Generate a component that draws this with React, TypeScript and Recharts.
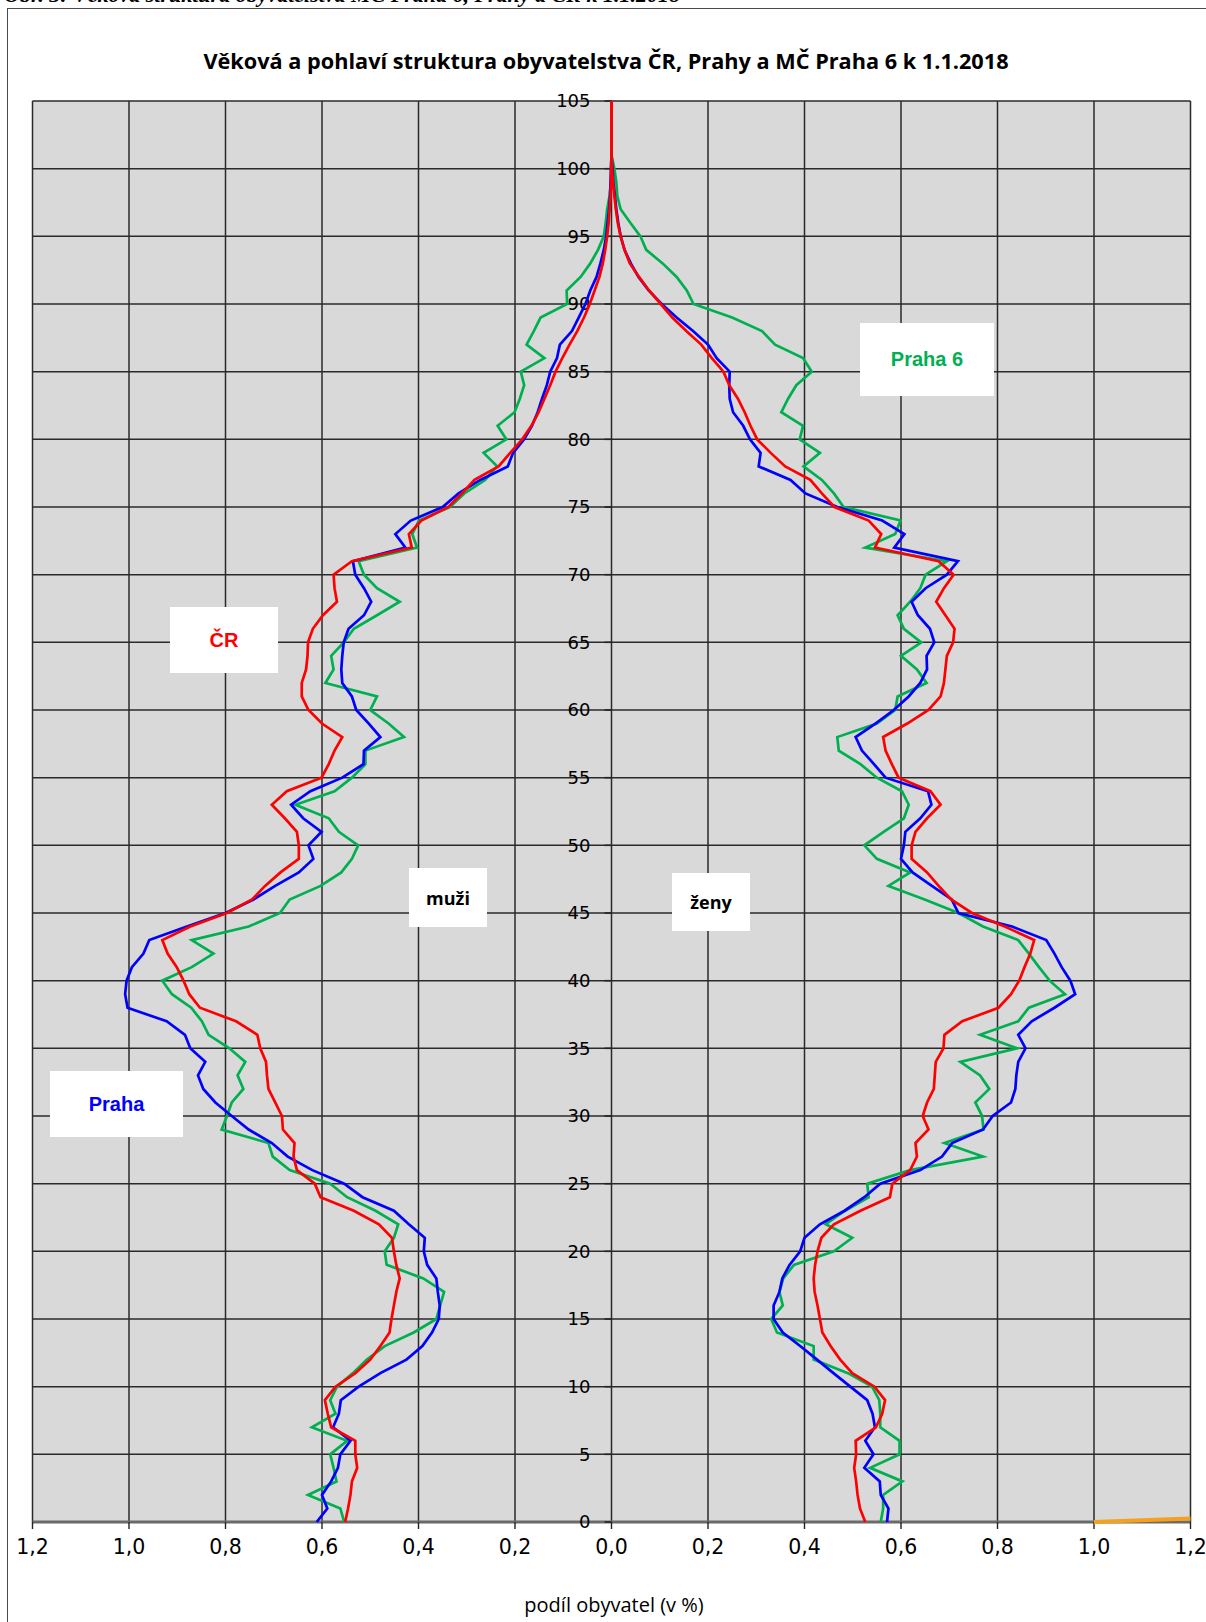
import React from 'react';
import { ScatterChart, Scatter, XAxis, YAxis, CartesianGrid } from 'recharts';

// ---------- data ----------
const AGES = [
  0, 1, 2, 3, 4, 5, 6, 7, 8, 9, 10, 11, 12, 13, 14, 15, 16, 17, 18, 19,
  20, 21, 22, 23, 24, 25, 26, 27, 28, 29, 30, 31, 32, 33, 34, 35, 36, 37, 38, 39,
  40, 41, 42, 43, 44, 45, 46, 47, 48, 49, 50, 51, 52, 53, 54, 55, 56, 57, 58, 59,
  60, 61, 62, 63, 64, 65, 66, 67, 68, 69, 70, 71, 72, 73, 74, 75, 76, 77, 78, 79,
  80, 81, 82, 83, 84, 85, 86, 87, 88, 89, 90, 91, 92, 93, 94, 95, 96, 97, 98, 99,
  100, 101, 102, 103, 104, 105,
];

// share of population (%) by single year of age
const CR_MUZI = [
  0.552, 0.546, 0.541, 0.538, 0.527, 0.531, 0.531, 0.581, 0.588, 0.594,
  0.572, 0.531, 0.5, 0.479, 0.46, 0.456, 0.451, 0.446, 0.439, 0.446,
  0.451, 0.455, 0.482, 0.534, 0.603, 0.615, 0.652, 0.659, 0.657, 0.681,
  0.683, 0.697, 0.711, 0.714, 0.716, 0.728, 0.734, 0.778, 0.853, 0.875,
  0.887, 0.901, 0.92, 0.931, 0.873, 0.797, 0.745, 0.718, 0.686, 0.648,
  0.648, 0.652, 0.677, 0.704, 0.673, 0.601, 0.586, 0.574, 0.558, 0.6,
  0.628, 0.642, 0.642, 0.633, 0.63, 0.629, 0.619, 0.598, 0.569, 0.574,
  0.576, 0.538, 0.414, 0.42, 0.394, 0.338, 0.31, 0.284, 0.234, 0.21,
  0.185, 0.166, 0.151, 0.139, 0.127, 0.116, 0.102, 0.087, 0.071, 0.057,
  0.045, 0.035, 0.025, 0.018, 0.013, 0.009, 0.006, 0.004, 0.002, 0.001,
  0.001, 0, 0, 0, 0, 0,
];
const CR_ZENY = [
  0.526, 0.515, 0.51, 0.507, 0.503, 0.507, 0.506, 0.548, 0.561, 0.567,
  0.545, 0.499, 0.474, 0.454, 0.437, 0.432, 0.427, 0.421, 0.419, 0.422,
  0.427, 0.435, 0.461, 0.516, 0.577, 0.582, 0.619, 0.633, 0.63, 0.657,
  0.645, 0.654, 0.668, 0.67, 0.672, 0.688, 0.69, 0.727, 0.802, 0.828,
  0.845, 0.856, 0.868, 0.876, 0.815, 0.747, 0.704, 0.678, 0.654, 0.622,
  0.622, 0.63, 0.654, 0.682, 0.661, 0.595, 0.581, 0.568, 0.563, 0.613,
  0.657, 0.682, 0.689, 0.692, 0.695, 0.708, 0.711, 0.692, 0.673, 0.689,
  0.709, 0.678, 0.546, 0.559, 0.533, 0.462, 0.436, 0.412, 0.36, 0.33,
  0.302, 0.288, 0.276, 0.262, 0.244, 0.232, 0.208, 0.186, 0.155, 0.126,
  0.102, 0.078, 0.057, 0.038, 0.027, 0.019, 0.013, 0.009, 0.006, 0.003,
  0.001, 0, 0, 0, 0, 0,
];
const PRAHA_MUZI = [
  0.611, 0.589, 0.6, 0.581, 0.567, 0.562, 0.541, 0.577, 0.565, 0.561,
  0.524, 0.479, 0.425, 0.392, 0.372, 0.358, 0.356, 0.36, 0.363, 0.382,
  0.389, 0.387, 0.42, 0.451, 0.516, 0.554, 0.62, 0.671, 0.704, 0.752,
  0.787, 0.821, 0.846, 0.857, 0.842, 0.873, 0.884, 0.922, 1.003, 1.008,
  1.005, 0.994, 0.97, 0.958, 0.88, 0.8, 0.742, 0.697, 0.648, 0.618,
  0.628, 0.601, 0.639, 0.664, 0.624, 0.558, 0.514, 0.513, 0.479, 0.503,
  0.529, 0.538, 0.558, 0.56, 0.558, 0.555, 0.545, 0.513, 0.498, 0.513,
  0.531, 0.536, 0.427, 0.448, 0.416, 0.35, 0.317, 0.272, 0.215, 0.204,
  0.181, 0.165, 0.153, 0.144, 0.134, 0.127, 0.113, 0.107, 0.082, 0.068,
  0.054, 0.044, 0.031, 0.023, 0.016, 0.011, 0.008, 0.005, 0.003, 0.002,
  0.001, 0,
];
const PRAHA_ZENY = [
  0.571, 0.574, 0.558, 0.556, 0.524, 0.543, 0.526, 0.546, 0.541, 0.53,
  0.495, 0.46, 0.426, 0.391, 0.355, 0.336, 0.336, 0.348, 0.354, 0.369,
  0.391, 0.4, 0.432, 0.483, 0.524, 0.557, 0.64, 0.685, 0.706, 0.77,
  0.79, 0.828, 0.837, 0.839, 0.843, 0.858, 0.843, 0.871, 0.918, 0.961,
  0.951, 0.933, 0.918, 0.901, 0.83, 0.719, 0.705, 0.664, 0.624, 0.6,
  0.606, 0.609, 0.64, 0.663, 0.656, 0.568, 0.544, 0.519, 0.506, 0.547,
  0.585, 0.616, 0.64, 0.654, 0.653, 0.669, 0.66, 0.635, 0.622, 0.651,
  0.695, 0.718, 0.586, 0.607, 0.561, 0.468, 0.402, 0.371, 0.305, 0.309,
  0.287, 0.273, 0.252, 0.245, 0.244, 0.245, 0.218, 0.2, 0.169, 0.135,
  0.104, 0.077, 0.056, 0.04, 0.027, 0.019, 0.014, 0.01, 0.007, 0.004,
  0.002, 0,
];
const PRAHA6_MUZI = [
  0.554, 0.562, 0.629, 0.57, 0.576, 0.583, 0.548, 0.621, 0.572, 0.583,
  0.569, 0.536, 0.507, 0.47, 0.41, 0.363, 0.355, 0.347, 0.39, 0.466,
  0.47, 0.451, 0.442, 0.489, 0.548, 0.583, 0.667, 0.702, 0.711, 0.808,
  0.797, 0.787, 0.763, 0.775, 0.759, 0.792, 0.835, 0.849, 0.871, 0.911,
  0.931, 0.87, 0.825, 0.87, 0.752, 0.687, 0.667, 0.603, 0.56, 0.538,
  0.525, 0.565, 0.586, 0.655, 0.574, 0.538, 0.51, 0.51, 0.43, 0.462,
  0.5, 0.486, 0.593, 0.576, 0.581, 0.555, 0.534, 0.486, 0.439, 0.486,
  0.513, 0.524, 0.403, 0.413, 0.399, 0.335, 0.305, 0.262, 0.237, 0.265,
  0.218, 0.236, 0.201, 0.19, 0.181, 0.188, 0.139, 0.176, 0.161, 0.147,
  0.092, 0.093, 0.064, 0.044, 0.028, 0.016, 0.012, 0.009, 0.004, 0.001,
  0,
];
const PRAHA6_ZENY = [
  0.558, 0.563, 0.563, 0.603, 0.536, 0.597, 0.597, 0.557, 0.557, 0.555,
  0.54, 0.49, 0.419, 0.419, 0.343, 0.331, 0.355, 0.348, 0.356, 0.378,
  0.461, 0.499, 0.444, 0.484, 0.533, 0.53, 0.619, 0.77, 0.69, 0.771,
  0.768, 0.754, 0.783, 0.764, 0.723, 0.84, 0.764, 0.843, 0.865, 0.94,
  0.908, 0.886, 0.865, 0.843, 0.77, 0.719, 0.649, 0.574, 0.619, 0.55,
  0.524, 0.564, 0.606, 0.616, 0.602, 0.55, 0.516, 0.471, 0.468, 0.55,
  0.588, 0.593, 0.653, 0.633, 0.6, 0.642, 0.606, 0.593, 0.619, 0.64,
  0.651, 0.695, 0.526, 0.588, 0.599, 0.481, 0.461, 0.436, 0.398, 0.432,
  0.39, 0.397, 0.352, 0.366, 0.383, 0.415, 0.397, 0.339, 0.312, 0.25,
  0.17, 0.156, 0.135, 0.106, 0.072, 0.06, 0.039, 0.019, 0.012, 0.01,
  0.006, 0,
];
const ORANGE_X = [1.0, 1.2];
const ORANGE_Y = [0, 0.25];

const X_TICKS = [-1.2, -1.0, -0.8, -0.6, -0.4, -0.2, 0, 0.2, 0.4, 0.6, 0.8, 1.0, 1.2];
const Y_TICKS = [0, 5, 10, 15, 20, 25, 30, 35, 40, 45, 50, 55, 60, 65, 70, 75, 80, 85, 90, 95, 100, 105];

const TITLE = 'Věková a pohlaví struktura obyvatelstva ČR, Prahy a MČ Praha 6 k 1.1.2018';
const CAPTION = 'Obr. 3: Věková struktura obyvatelstva MČ Praha 6, Prahy a ČR k 1.1.2018';
const X_TITLE = 'podíl obyvatel (v %)';

// ---------- layout ----------
const W = 1206;
const H = 1622;
const M = { top: 101, right: 15.5, bottom: 40, left: 32.5 };

const RED = '#ff0000';
const BLUE = '#0000ff';
const GREEN = '#00b050';
const ORANGE = '#f5a01e';

const toPoints = (values: number[], sign: number) =>
  values.map((v, i) => ({ x: sign * v, y: AGES[i] }));

const orangePoints = ORANGE_X.map((x, i) => ({ x, y: ORANGE_Y[i] }));
// age labels sit on the central (x = 0) axis
const centerTickPoints = Y_TICKS.map((t) => ({ x: 0, y: t }));

const SERIES = [
  { key: 'p6m', data: toPoints(PRAHA6_MUZI, -1), color: GREEN },
  { key: 'p6z', data: toPoints(PRAHA6_ZENY, 1), color: GREEN },
  { key: 'pm', data: toPoints(PRAHA_MUZI, -1), color: BLUE },
  { key: 'pz', data: toPoints(PRAHA_ZENY, 1), color: BLUE },
  { key: 'crm', data: toPoints(CR_MUZI, -1), color: RED },
  { key: 'crz', data: toPoints(CR_ZENY, 1), color: RED },
];

const NoShape = () => <g />;

const CenterTickShape = (props: any) => {
  const { cx, cy, payload } = props;
  return (
    <g>
      <line x1={cx - 7} x2={cx} y1={cy} y2={cy} stroke="#222" strokeWidth={1.5} />
      <text
        x={cx - 21}
        y={cy}
        dy="0.36em"
        textAnchor="end"
        fontFamily="DejaVu Sans"
        fontSize={18}
        fill="#000"
      >
        {payload.y}
      </text>
    </g>
  );
};

const fmtX = (v: number) => Math.abs(v).toFixed(1).replace('.', ',');

const Box = ({ left, top, width, height, color, font, size, text }: any) => (
  <div
    style={{
      position: 'absolute',
      left,
      top,
      width,
      height,
      background: '#fff',
      display: 'flex',
      alignItems: 'center',
      justifyContent: 'center',
      color,
      fontFamily: font,
      fontWeight: 'bold',
      fontSize: size,
    }}
  >
    {text}
  </div>
);

export default function App() {
  return (
    <div
      style={{
        position: 'absolute',
        left: 0,
        top: 0,
        width: W,
        height: H,
        overflow: 'hidden',
        background: '#fff',
      }}
    >
      {/* caption above the frame, cut by the page edge as in the source */}
      <div
        style={{
          position: 'absolute',
          left: 4,
          top: -18,
          whiteSpace: 'nowrap',
          fontFamily: '"Liberation Serif", serif',
          fontStyle: 'italic',
          fontWeight: 'bold',
          fontSize: 22,
          color: '#000',
        }}
      >
        {CAPTION}
      </div>
      {/* frame */}
      <div
        style={{
          position: 'absolute',
          left: 7,
          top: 8,
          width: W,
          height: H + 50,
          border: '1.5px solid #4a4a4a',
          boxSizing: 'border-box',
        }}
      />
      <div style={{ position: 'absolute', left: 0, top: 0 }}>
        <ScatterChart width={W} height={H} margin={M}>
          <CartesianGrid fill="#d9d9d9" stroke="#2a2a2a" strokeWidth={1.5} />
          <XAxis
            type="number"
            dataKey="x"
            domain={[-1.2, 1.2]}
            ticks={X_TICKS}
            interval={0}
            height={60}
            tickFormatter={fmtX}
            tickSize={7}
            tickMargin={10}
            axisLine={{ stroke: '#6a6a6a', strokeWidth: 3 }}
            tickLine={{ stroke: '#222', strokeWidth: 1.4 }}
            tick={{ fontFamily: 'DejaVu Sans', fontSize: 20.5, fill: '#000' }}
          />
          <YAxis
            type="number"
            dataKey="y"
            domain={[0, 105]}
            ticks={Y_TICKS}
            interval={0}
            width={0}
            axisLine={false}
            tickLine={false}
            tick={NoShape}
          />
          <Scatter
            data={centerTickPoints}
            fill="#000"
            shape={CenterTickShape}
            isAnimationActive={false}
          />
          {SERIES.map((s) => (
            <Scatter
              key={s.key}
              data={s.data}
              fill={s.color}
              line={{ stroke: s.color, strokeWidth: 2.7 }}
              lineType="joint"
              shape={NoShape}
              isAnimationActive={false}
            />
          ))}
          <Scatter
            data={orangePoints}
            fill={ORANGE}
            line={{ stroke: ORANGE, strokeWidth: 4 }}
            lineType="joint"
            shape={NoShape}
            isAnimationActive={false}
          />
        </ScatterChart>
      </div>
      {/* title */}
      <div
        style={{
          position: 'absolute',
          left: 0,
          width: 1212,
          top: 46,
          textAlign: 'center',
          fontFamily: '"Open Sans", sans-serif',
          fontWeight: 'bold',
          fontSize: 21.7,
          color: '#000',
          whiteSpace: 'nowrap',
        }}
      >
        {TITLE}
      </div>
      {/* x axis title */}
      <div
        style={{
          position: 'absolute',
          left: 0,
          width: 1228,
          top: 1591,
          textAlign: 'center',
          fontFamily: '"Open Sans", sans-serif',
          fontSize: 20,
          color: '#000',
          whiteSpace: 'nowrap',
        }}
      >
        {X_TITLE}
      </div>
      <Box left={860} top={323} width={134} height={73} color={GREEN} font='"Liberation Sans", Arial, sans-serif' size={20} text="Praha 6" />
      <Box left={170} top={607} width={108} height={66} color={RED} font='"Liberation Sans", Arial, sans-serif' size={20} text="ČR" />
      <Box left={50} top={1071} width={133} height={66} color={BLUE} font='"Liberation Sans", Arial, sans-serif' size={20} text="Praha" />
      <Box left={409} top={868} width={78} height={59} color="#000" font='"Open Sans", sans-serif' size={18} text="muži" />
      <Box left={672} top={873} width={78} height={58} color="#000" font='"Open Sans", sans-serif' size={18} text="ženy" />
    </div>
  );
}
